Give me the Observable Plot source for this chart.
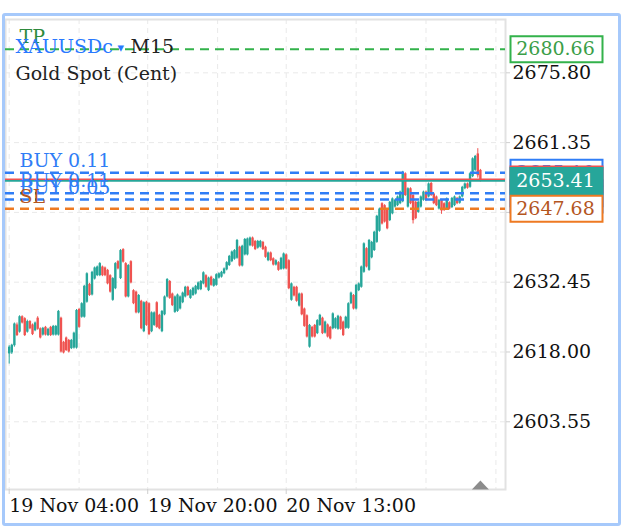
<!DOCTYPE html>
<html><head><meta charset="utf-8">
<script src="https://cdn.jsdelivr.net/npm/d3@7"></script>
<script src="https://cdn.jsdelivr.net/npm/@observablehq/plot@0.6"></script>
<style>
html,body{margin:0;padding:0;background:#fff;}
#wrap{position:relative;width:625px;height:530px;overflow:hidden;}
#wrap svg{position:absolute;left:0;top:0;}
#border{position:absolute;left:1.5px;top:13px;width:613px;height:507px;border:3px solid #a6c9fb;border-radius:3px;pointer-events:none;}
</style></head>
<body><div id="wrap"><div id="border"></div></div>
<script>
// ---- data (M15 candles) ----
const open = [2617.6,2617.8,2619.3,2623.6,2622.1,2625.3,2624.9,2622.1,2624.3,2623.6,2622.4,2625.0,2622.8,2621.5,2623.1,2621.4,2623.1,2621.5,2621.5,2621.5,
2625.0,2620.0,2620.9,2620.4,2618.7,2618.8,2618.8,2626.8,2625.2,2625.2,2628.3,2632.0,2629.8,2633.1,2633.8,2633.8,2635.6,2635.4,2634.9,2633.8,
2628.7,2631.1,2636.7,2633.2,2639.2,2636.3,2629.4,2636.7,2630.7,2630.4,2626.1,2628.5,2622.2,2628.3,2628.0,2622.2,2623.5,2628.2,2625.6,2622.2,
2625.7,2629.4,2632.6,2630.0,2626.2,2626.4,2626.9,2628.2,2629.4,2631.4,2629.1,2629.7,2630.0,2630.9,2630.9,2632.1,2633.8,2630.7,2633.5,2631.6,
2631.8,2633.3,2633.5,2634.2,2635.0,2635.9,2636.7,2637.2,2637.4,2639.7,2635.8,2638.1,2638.1,2640.0,2641.6,2640.9,2639.5,2639.7,2640.7,2639.7,
2636.9,2638.5,2637.3,2636.0,2636.5,2635.1,2635.2,2638.1,2636.9,2628.7,2631.4,2631.4,2627.5,2630.0,2626.9,2625.5,2619.0,2623.1,2623.5,2621.8,
2623.5,2625.0,2621.9,2623.6,2623.1,2622.8,2622.9,2622.7,2625.2,2624.2,2622.9,2622.9,2628.0,2629.7,2626.9,2630.7,2631.4,2634.5,2639.4,2634.9,
2637.5,2639.0,2640.7,2643.0,2648.7,2648.3,2647.3,2645.2,2646.6,2648.0,2648.3,2648.7,2649.1,2654.9,2648.0,2651.8,2650.4,2649.0,2646.9,2648.0,
2649.4,2651.1,2650.1,2652.9,2650.7,2650.1,2647.6,2649.4,2648.7,2647.6,2648.9,2647.9,2648.3,2649.8,2648.8,2650.1,2651.8,2652.8,2652.1,2654.3,
2655.6,2659.0,2655.6];
const close = [2619.0,2619.4,2623.8,2621.4,2625.3,2624.0,2621.4,2624.3,2622.8,2621.6,2624.0,2622.7,2620.9,2622.9,2621.5,2622.7,2621.4,2623.3,2623.3,2626.4,
2618.0,2617.8,2618.3,2618.0,2620.4,2621.9,2626.6,2623.1,2628.0,2631.6,2634.2,2629.7,2634.5,2635.4,2635.6,2636.3,2633.8,2633.8,2632.1,2630.4,
2633.2,2636.3,2635.2,2639.0,2636.6,2629.4,2635.9,2632.3,2628.0,2626.1,2629.7,2622.8,2628.2,2623.5,2621.6,2626.1,2626.1,2623.1,2622.8,2626.4,
2629.4,2633.0,2629.1,2627.6,2629.4,2629.8,2629.4,2630.2,2631.4,2629.7,2630.7,2631.2,2631.6,2632.3,2632.6,2634.4,2631.4,2633.3,2631.8,2633.0,
2634.0,2634.2,2634.5,2635.2,2636.5,2637.8,2638.7,2639.0,2641.1,2635.8,2639.9,2641.3,2641.4,2641.6,2639.9,2639.2,2640.9,2640.9,2639.2,2637.6,
2638.5,2636.9,2636.0,2636.9,2634.9,2637.4,2638.3,2635.2,2631.1,2632.1,2629.6,2628.5,2630.0,2625.7,2623.3,2621.1,2623.5,2621.1,2621.1,2624.5,
2625.6,2621.8,2624.2,2621.1,2620.7,2625.9,2624.9,2625.4,2622.7,2621.4,2625.2,2628.0,2630.2,2626.9,2631.8,2632.1,2635.6,2640.4,2635.6,2641.1,
2640.7,2642.8,2646.1,2647.6,2644.5,2644.9,2643.5,2649.0,2649.7,2649.4,2650.1,2651.1,2655.2,2650.4,2651.8,2648.7,2645.2,2645.6,2649.0,2650.1,
2651.1,2649.4,2652.8,2650.4,2648.7,2648.3,2649.4,2647.2,2647.3,2649.7,2647.6,2649.8,2650.1,2648.7,2650.1,2652.1,2652.8,2651.9,2654.9,2658.0,
2658.5,2654.5,2653.41];
const high = [2619.3,2619.6,2624.0,2624.0,2625.5,2625.5,2625.1,2624.6,2624.5,2623.8,2624.2,2625.3,2623.0,2623.1,2623.3,2622.9,2623.3,2623.5,2623.5,2626.6,
2625.2,2620.2,2621.1,2620.6,2620.6,2622.1,2626.8,2627.0,2628.2,2631.8,2634.4,2632.2,2634.7,2635.6,2635.8,2636.5,2635.8,2635.6,2635.1,2634.0,
2633.4,2636.5,2636.9,2639.2,2639.4,2636.5,2636.1,2636.9,2630.9,2630.6,2629.9,2628.7,2628.4,2628.5,2628.2,2626.3,2626.3,2628.4,2625.8,2626.6,
2629.6,2633.2,2632.8,2630.2,2629.6,2630.0,2629.6,2630.4,2631.6,2631.6,2630.9,2631.4,2631.8,2632.5,2632.8,2634.6,2634.0,2633.5,2633.7,2633.2,
2634.2,2634.4,2634.7,2635.4,2636.7,2638.0,2638.9,2639.2,2641.3,2639.9,2640.1,2641.5,2641.6,2641.8,2641.8,2641.1,2641.1,2641.1,2640.9,2639.9,
2638.7,2638.7,2637.5,2637.1,2636.7,2637.6,2638.5,2638.3,2637.1,2632.3,2631.6,2631.6,2630.2,2630.2,2627.1,2625.7,2623.7,2623.3,2623.7,2624.7,
2625.8,2625.2,2624.4,2623.8,2623.3,2626.1,2625.1,2625.6,2625.4,2624.4,2625.4,2628.2,2630.4,2629.9,2632.0,2632.3,2635.8,2640.6,2639.6,2641.3,
2640.9,2643.0,2646.3,2647.8,2648.9,2648.5,2647.5,2649.2,2649.9,2649.6,2650.3,2651.3,2655.4,2655.1,2652.0,2652.0,2650.6,2649.2,2649.2,2650.3,
2651.3,2651.3,2653.0,2653.1,2650.9,2650.3,2649.6,2649.6,2648.9,2649.9,2649.1,2650.0,2650.3,2650.0,2650.3,2652.3,2653.0,2653.0,2655.1,2658.2,
2658.7,2660.1,2655.8];
const low = [2615.5,2617.5,2619.0,2621.2,2621.9,2623.8,2621.2,2621.9,2622.6,2621.4,2622.2,2622.5,2620.7,2621.3,2621.3,2621.2,2621.2,2621.3,2621.3,2621.3,
2617.8,2617.6,2618.1,2617.8,2618.5,2618.6,2618.6,2622.9,2625.0,2625.0,2628.1,2629.5,2629.6,2632.9,2633.6,2633.6,2633.6,2633.6,2631.9,2630.2,
2628.5,2630.9,2635.0,2633.0,2636.4,2629.2,2629.2,2632.1,2627.8,2625.9,2625.9,2622.6,2622.0,2623.3,2621.4,2622.0,2623.3,2622.9,2622.6,2622.0,
2625.5,2629.2,2628.9,2627.4,2626.0,2626.2,2626.7,2628.0,2629.2,2629.5,2628.9,2629.5,2629.8,2630.7,2630.7,2631.9,2631.2,2630.5,2631.6,2631.4,
2631.6,2633.1,2633.3,2634.0,2634.8,2635.7,2636.5,2637.0,2637.2,2635.6,2635.6,2637.9,2637.9,2639.8,2639.7,2639.0,2639.3,2639.5,2639.0,2637.4,
2636.7,2636.7,2635.8,2635.8,2634.7,2634.9,2635.0,2635.0,2630.9,2628.5,2629.4,2628.3,2627.3,2625.5,2623.1,2620.9,2618.8,2620.9,2620.9,2621.6,
2623.3,2621.6,2621.7,2620.9,2620.5,2622.6,2622.7,2622.5,2622.5,2621.2,2622.7,2622.7,2627.8,2626.7,2626.7,2630.5,2631.2,2634.3,2635.4,2634.7,
2637.3,2638.8,2640.5,2642.8,2644.3,2644.7,2643.3,2645.0,2646.4,2647.8,2648.1,2648.5,2648.9,2650.2,2647.8,2648.5,2644.5,2645.4,2646.7,2647.8,
2649.2,2649.2,2649.9,2650.2,2648.5,2648.1,2647.4,2646.5,2647.1,2647.4,2647.4,2647.7,2648.1,2648.5,2648.6,2649.9,2651.6,2651.7,2651.9,2654.1,
2655.4,2654.0,2653.2];

const yTicks = [2603.55, 2618.00, 2632.45, 2646.90, 2661.35, 2675.80];
const xLabelIdx = [0, 53.5, 107];
const xLabels = ["19 Nov 04:00", "19 Nov 20:00", "20 Nov 13:00"];
const xGridIdx = [0, 27, 53.5, 80.5, 107, 134, 161, 188];

const symbolName = "XAUUSDc", timeframe = "M15", description = "Gold Spot (Cent)";
const tpPrice = 2680.66;
const slPrice = 2647.68;
const buyPrices = [2655.10, 2650.88, 2649.57];
const buyLabels = ["BUY 0.11", "BUY 0.11", "BUY 0.05"];
const bid = 2653.41, ask = 2653.71;

// ---- styles ----
const UP = "#26a69a", DOWN = "#ef5350", BLUE = "#2f7df6", GREEN = "#33b24b", ORANGE = "#ee7a22";
const FONT = "DejaVu Serif";
const FS = 19;

const candles = open.map((o, i) => ({i, o, c: close[i], h: high[i], l: low[i]}));
const col = d => d.c >= d.o ? UP : DOWN;

const boxSym = {draw(ctx) { ctx.moveTo(-46, -13); ctx.lineTo(46, -13); ctx.lineTo(46, 13); ctx.lineTo(-46, 13); ctx.closePath(); }};
const triSym = {draw(ctx) { ctx.moveTo(0, -5); ctx.lineTo(8.5, 4); ctx.lineTo(-8.5, 4); ctx.closePath(); }};

const priceTags = [
  {p: buyPrices[2], fill: "#fff", stroke: BLUE, text: BLUE},
  {p: buyPrices[1], fill: "#fff", stroke: BLUE, text: BLUE},
  {p: buyPrices[0], fill: "#fff", stroke: BLUE, text: BLUE},
  {p: ask, fill: DOWN, stroke: DOWN, text: "#fff"},
  {p: bid, fill: UP, stroke: UP, text: "#fff"},
  {p: slPrice, fill: "#fff", stroke: ORANGE, text: "#b4561f"},
  {p: tpPrice, fill: "#fff", stroke: GREEN, text: "#3a9e48"}
];

const tagMarks = priceTags.flatMap(t => [
  Plot.dot([t.p], {y: d => d, frameAnchor: "right", dx: 51, symbol: boxSym, r: 1, fill: t.fill, stroke: t.stroke, strokeWidth: 2}),
  Plot.text([t.p], {y: d => d, frameAnchor: "right", dx: 50, text: d => d.toFixed(2), fill: t.text, textAnchor: "middle", fontSize: FS})
]);

const lineLabels = [
  {p: tpPrice, t: "TP", c: "#2e8a3c"},
  {p: buyPrices[0], t: buyLabels[0], c: BLUE},
  {p: buyPrices[1], t: buyLabels[1], c: BLUE},
  {p: buyPrices[2], t: buyLabels[2], c: BLUE},
  {p: slPrice, t: "SL", c: "#b4561f"}
];

const chart = Plot.plot({
  width: 625, height: 530,
  marginLeft: 5, marginRight: 120, marginTop: 19, marginBottom: 41,
  x: {domain: [-1.43, 191.7]},
  y: {domain: [2589.53, 2686.84]},
  style: {fontFamily: FONT, fontSize: FS + "px", background: "transparent", color: "#111"},
  marks: [
    Plot.ruleY(yTicks, {stroke: "#e9e9e9", strokeDasharray: "5,4"}),
    Plot.ruleX(xGridIdx, {stroke: "#e9e9e9", strokeDasharray: "5,4"}),
    Plot.frame({stroke: "#e2e2e2", strokeWidth: 2}),
    Plot.axisY({anchor: "right", label: null, ticks: yTicks, tickFormat: d => d.toFixed(2), tickSize: 4, tickPadding: 3, stroke: "#cfcfcf", fill: "#111", fontSize: FS}),
    Plot.axisX({label: null, ticks: xLabelIdx, tickFormat: d => xLabels[xLabelIdx.indexOf(d)], textAnchor: "start", dx: 0, tickSize: 5, tickPadding: 4, stroke: "#cfcfcf", fill: "#111", fontSize: FS}),
    // candles
    Plot.ruleX(candles, {x: "i", y1: "l", y2: "h", stroke: col, strokeWidth: 1}),
    Plot.ruleX(candles, {x: "i", y1: "o", y2: "c", stroke: col, strokeWidth: 2.4}),
    // order / price lines
    Plot.ruleY([tpPrice], {stroke: GREEN, strokeWidth: 2, strokeDasharray: "9,6"}),
    Plot.ruleY(buyPrices, {stroke: BLUE, strokeWidth: 2.5, strokeDasharray: "9,6"}),
    Plot.ruleY([slPrice], {stroke: ORANGE, strokeWidth: 2.5, strokeDasharray: "9,6"}),
    Plot.ruleY([ask], {stroke: DOWN, strokeWidth: 1.8}),
    Plot.ruleY([bid], {stroke: UP, strokeWidth: 1.8}),
    Plot.text(lineLabels, {y: "p", text: "t", fill: "c", frameAnchor: "left", dx: 14, dy: -12, textAnchor: "start", fontSize: FS}),
    // header
    Plot.text([symbolName], {frameAnchor: "top-left", dx: 10, dy: 20, text: d => d, fill: "#2979ff", textAnchor: "start", fontSize: FS}),
    Plot.text(["▾"], {frameAnchor: "top-left", dx: 112, dy: 23, text: d => d, fill: "#2979ff", textAnchor: "start", fontSize: 13}),
    Plot.text([timeframe], {frameAnchor: "top-left", dx: 125, dy: 20, text: d => d, fill: "#222", textAnchor: "start", fontSize: FS}),
    Plot.text([description], {frameAnchor: "top-left", dx: 10, dy: 47, text: d => d, fill: "#222", textAnchor: "start", fontSize: FS}),
    // price tags on the right
    ...tagMarks,
    // scroll marker under last candle
    Plot.dot([candles.length - 1], {x: d => d, frameAnchor: "bottom", dy: -4, symbol: triSym, r: 1, fill: "#8c8c8c", stroke: "none"})
  ]
});
document.getElementById("wrap").prepend(chart);
</script>
</body></html>
